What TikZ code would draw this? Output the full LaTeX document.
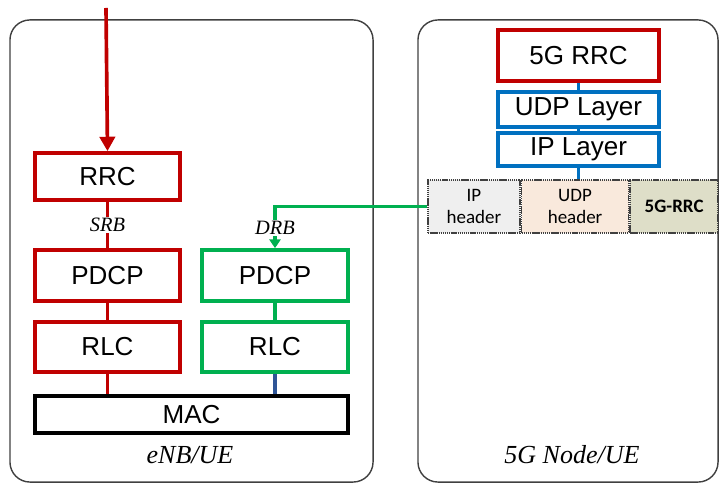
\documentclass[tikz,border=0pt]{standalone}
\usepackage{fontspec}
\setmainfont{Liberation Serif}
\setsansfont{Liberation Sans}
\newfontfamily\hdrfont{Carlito}
\usepackage{xcolor}
\usepackage{tikz}
\usetikzlibrary{positioning,arrows.meta,shapes,calc}

\definecolor{stackred}{HTML}{C00000}
\definecolor{stackgreen}{HTML}{00B050}
\definecolor{stackblue}{HTML}{0070C0}
\definecolor{linkblue}{HTML}{2F5597}
\definecolor{hdrgray}{HTML}{EFEFEF}
\definecolor{hdrpeach}{HTML}{F9E9DC}
\definecolor{hdrolive}{HTML}{DEDEC8}

\begin{document}
\begin{tikzpicture}[
    x=0.025cm, y=-0.025cm,
    >=Latex,
    font=\sffamily,
    container/.style={
        draw=black!75, line width=1pt,
        rounded corners=0.5cm,
        minimum height=11.55cm,
        inner sep=0pt
    },
    layer/.style={
        draw, line width=2.6pt,
        fill=white,
        minimum width=3.625cm,
        font=\fontsize{18.5}{20}\selectfont\sffamily,
        text=black,
        inner sep=0pt
    },
    layerR/.style={layer, draw=stackred},
    layerG/.style={layer, draw=stackgreen, minimum width=3.65cm},
    layerB/.style={layer, draw=stackblue, minimum width=4.025cm},
    hdr/.style={
        draw=black!75, line width=1.1pt,
        dash pattern=on 1pt off 0.5pt,
        minimum height=1.325cm,
        font=\fontsize{13.5}{15}\selectfont\hdrfont,
        align=center, text=black,
        inner sep=0pt
    },
    lbl/.style={
        fill=white, inner sep=1pt,
        font=\fontsize{14.5}{16}\selectfont\rmfamily\itshape
    },
    tag/.style={
        font=\fontsize{18.5}{20}\selectfont\rmfamily\itshape
    },
    link/.style={line width=2.6pt}
]
\useasboundingbox (0,0) rectangle (722,484);

% the two nodes
\node[container, minimum width=9.075cm] (enb) at (191.5, 251) {};
\node[container, minimum width=7.5cm] (gnb) at (568, 251) {};

% eNB/UE stack
\node[layerR, minimum height=1.175cm] (rrc) at (107.5, 176.5) {RRC};
\node[layerR, minimum height=1.275cm] (pdcpS) at (107.5, 275.5) {PDCP};
\node[layerR, minimum height=1.25cm] (rlcS) at (107.5, 347) {RLC};
\node[layerG, minimum height=1.275cm] (pdcpD) at (275, 275.5) {PDCP};
\node[layerG, minimum height=1.25cm] (rlcD) at (275, 347) {RLC};
\node[layer, draw=black, minimum width=7.825cm, minimum height=0.925cm] (mac) at (191.5, 414.5) {MAC};
\node[tag] (enbtag) at (190, 455) {eNB/UE};

% 5G Node/UE stack
\node[layerR, minimum width=4.025cm, minimum height=1.275cm] (rrc5g) at (578.5, 55.5) {5G RRC};
\node[layerB, minimum height=0.875cm] (udp) at (578.5, 109.5) {UDP Layer};
\node[layerB, minimum height=0.825cm] (ip) at (578.5, 149.5) {IP Layer};
\node[hdr, fill=hdrgray, minimum width=2.3cm] (iphdr) at (474, 206.5) {IP\\header};
\node[hdr, fill=hdrpeach, minimum width=2.675cm, right=0pt of iphdr] (udphdr) {UDP\\header};
\node[hdr, fill=hdrolive, minimum width=2.2cm, right=0pt of udphdr] (rrchdr) {\bfseries 5G-RRC};
\node[tag] (gnbtag) at (572, 455) {5G Node/UE};

\coordinate (top) at (106, 8);

% connectors
\draw[link, draw=stackred, -{Triangle[length=0.36cm, width=0.38cm]}] (top) -- (rrc.north);
\draw[link, draw=stackred] (rrc) -- node[lbl] {SRB} (pdcpS);
\draw[link, draw=stackred] (pdcpS) -- (rlcS);
\draw[link, draw=stackred] (rlcS) -- (rlcS |- mac.north);
\draw[link, draw=stackgreen, -{Triangle[length=0.22cm, width=0.28cm]}]
    (iphdr.west) -| node[lbl, pos=0.76] {DRB} (pdcpD.north);
\draw[link, draw=stackgreen] (pdcpD) -- (rlcD);
\draw[link, draw=linkblue] (rlcD) -- (rlcD |- mac.north);
\draw[link, draw=stackblue, line width=2pt] (rrc5g) -- (udp);
\draw[link, draw=stackblue, line width=2pt] (udp) -- (ip);
\draw[link, draw=stackblue, line width=2pt] (ip) -- (ip |- udphdr.north);

\end{tikzpicture}
\end{document}
